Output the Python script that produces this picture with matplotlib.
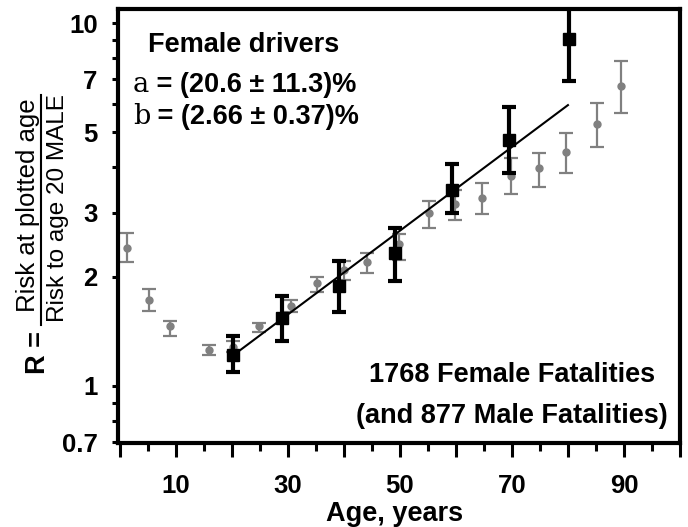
import matplotlib
matplotlib.use("Agg")
import matplotlib.pyplot as plt
from matplotlib.lines import Line2D
from matplotlib.ticker import FixedLocator, FixedFormatter, NullLocator

plt.rcParams['font.family'] = ['Liberation Sans', 'DejaVu Sans']

# gray points: reference (male) ratios
male_age = [1.3, 5.3, 8.9, 16.0, 20.3, 24.9, 30.6, 35.3, 40.0, 44.2, 49.9, 55.2, 59.8, 64.7, 69.8, 74.8, 79.7, 85.1, 89.4]
male_r = [2.40, 1.73, 1.46, 1.26, 1.28, 1.46, 1.66, 1.92, 2.09, 2.20, 2.46, 2.99, 3.17, 3.30, 3.79, 3.99, 4.41, 5.27, 6.71]
male_lo = [2.19, 1.61, 1.37, 1.22, 1.24, 1.41, 1.60, 1.82, 1.96, 2.05, 2.23, 2.72, 2.87, 2.97, 3.37, 3.54, 3.87, 4.56, 5.66]
male_hi = [2.64, 1.85, 1.51, 1.30, 1.33, 1.49, 1.72, 2.00, 2.21, 2.32, 2.63, 3.24, 3.46, 3.62, 4.24, 4.38, 4.97, 6.02, 7.85]

# black squares: female drivers
fem_age = [20.2, 29.0, 39.1, 49.2, 59.3, 69.4, 80.1]
fem_r = [1.22, 1.54, 1.89, 2.32, 3.47, 4.76, 9.02]
fem_lo = [1.09, 1.33, 1.60, 1.95, 3.00, 3.87, 6.93]
fem_hi = [1.37, 1.77, 2.21, 2.72, 4.08, 5.88, 11.7]

# fitted line end points
fit_age = [20, 80]
fit_r = [1.206, 5.94]

xticks = [0, 10, 20, 30, 40, 50, 60, 70, 80, 90, 100]
xtick_labels = ['', '10', '', '30', '', '50', '', '70', '', '90', '']
xminor = [5, 15, 25, 35, 45, 55, 65, 75, 85, 95]
yticks = [0.7, 0.8, 0.9, 1, 2, 3, 4, 5, 6, 7, 8, 9, 10]
ytick_labels = ['0.7', '', '', '1', '2', '3', '', '5', '', '7', '', '', '10']

fig = plt.figure(figsize=(6.88, 5.27), dpi=100)
ax = fig.add_axes([0.1715, 0.1588, 0.8169, 0.8247])

gray = '#808080'
m_err = [[r - lo for r, lo in zip(male_r, male_lo)], [hi - r for r, hi in zip(male_r, male_hi)]]
ax.errorbar(male_age, male_r, yerr=m_err, fmt='o', color=gray, ms=5, elinewidth=1.6,
            capsize=5, capthick=1.6, zorder=2)
ax.plot(fit_age, fit_r, color='black', lw=1.5, zorder=3)
f_err = [[r - lo for r, lo in zip(fem_r, fem_lo)], [hi - r for r, hi in zip(fem_r, fem_hi)]]
ax.errorbar(fem_age, fem_r, yerr=f_err, fmt='s', color='black', ms=8.5, elinewidth=3,
            capsize=5, capthick=3, zorder=4)

ax.set_yscale('log')
ax.set_xlim(-0.3, 100)
ax.set_ylim(0.695, 10.95)

ax.xaxis.set_major_locator(FixedLocator(xticks))
ax.xaxis.set_major_formatter(FixedFormatter(xtick_labels))
ax.xaxis.set_minor_locator(FixedLocator(xminor))
ax.yaxis.set_major_locator(FixedLocator(yticks))
ax.yaxis.set_major_formatter(FixedFormatter(ytick_labels))
ax.yaxis.set_minor_locator(NullLocator())

for s in ax.spines.values():
    s.set_linewidth(3)
ax.tick_params(axis='x', which='major', length=10, width=2.2, pad=12, labelsize=18.5)
ax.tick_params(axis='x', which='minor', length=6, width=2.2)
ax.tick_params(axis='y', which='major', length=4.6, width=2.2, pad=10, labelsize=18.5)
for lab in ax.get_xticklabels() + ax.get_yticklabels():
    lab.set_fontweight('bold')

ax.set_xlabel('Age, years', fontsize=19.5, fontweight='bold')
ax.xaxis.set_label_coords(0.492, -0.133)

# annotations
ax.text(0.0534, 0.9004, 'Female drivers', transform=ax.transAxes, fontsize=19.5,
        fontweight='bold', va='baseline')
ta = ax.text(0.0267, 0.8083, 'a', transform=ax.transAxes, fontsize=19.5,
             family='DejaVu Serif', va='baseline')
ax.annotate(' = (20.6 \u00b1 11.3)%', xy=(1, 0), xycoords=ta, fontsize=19.5,
            fontweight='bold', va='bottom')
tb = ax.text(0.0267, 0.7347, 'b', transform=ax.transAxes, fontsize=19.5,
             family='DejaVu Serif', va='baseline')
ax.annotate(' = (2.66 \u00b1 0.37)%', xy=(1, 0), xycoords=tb, fontsize=19.5,
            fontweight='bold', va='bottom')
ax.text(0.701, 0.141, '1768 Female Fatalities', transform=ax.transAxes, fontsize=19.5,
        fontweight='bold', ha='center', va='baseline')
ax.text(0.701, 0.0467, '(and 877 Male Fatalities)', transform=ax.transAxes, fontsize=19.5,
        fontweight='bold', ha='center', va='baseline')

# y label as a fraction
W, H = 688.0, 527.0
fig.text(38 / W, 1 - 353 / H, 'R =', rotation=90, fontsize=19.5, fontweight='bold',
         ha='center', va='center')
fig.text(28 / W, 1 - 205 / H, 'Risk at plotted age', rotation=90, fontsize=18.5,
         ha='center', va='center')
fig.text(58 / W, 1 - 208 / H, 'Risk to age 20 MALE', rotation=90, fontsize=17.5,
         ha='center', va='center')
fig.add_artist(Line2D([41 / W, 41 / W], [1 - 95 / H, 1 - 325 / H], color='black', lw=1.5))

fig.savefig('out.png', dpi=100)
